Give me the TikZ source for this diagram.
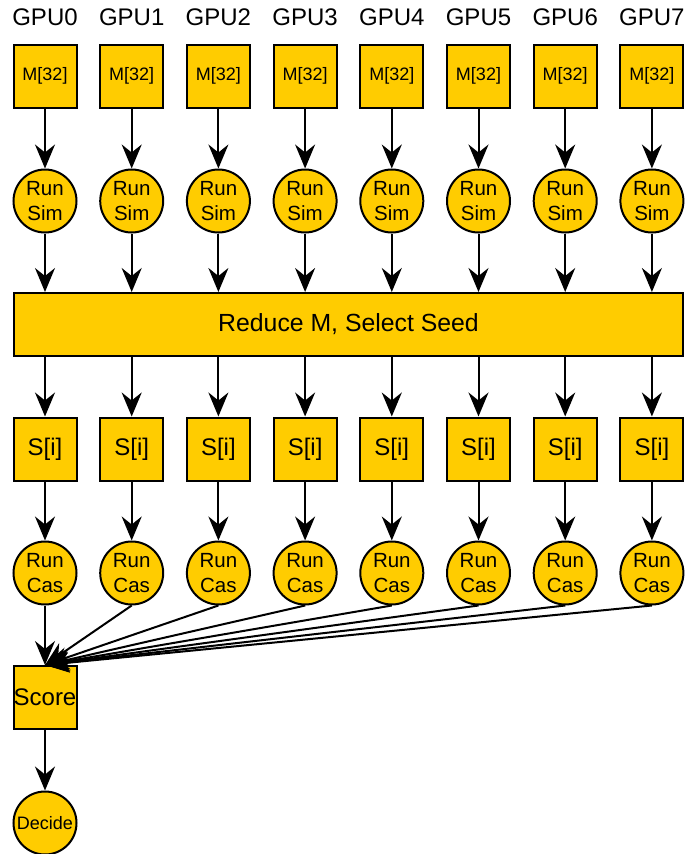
\documentclass[tikz,border=0pt]{standalone}
\usepackage{fontspec}
\setmainfont{Liberation Sans}
\usetikzlibrary{arrows.meta,positioning}
\definecolor{gpugold}{HTML}{FFCC00}
\tikzset{
  stage/.style={draw=black, line width=2pt, fill=gpugold, minimum size=63pt, inner sep=0pt},
  boxnode/.style={stage, rectangle},
  runnode/.style={stage, circle, align=center, font=\fontsize{20.5}{25}\selectfont},
  flow/.style={line width=2pt, -{Stealth[length=24pt,width=20pt,inset=8pt]}}
}

\begin{document}
\begin{tikzpicture}[x=1pt,y=-1pt]
  \useasboundingbox (0,0) rectangle (688,854);
  \pgfmathsetmacro{\colsep}{86.7};
  % reduction step shared by all GPUs
  \node[stage, rectangle, minimum width=669pt, font=\fontsize{24.8}{28}\selectfont] (reduce) at (348.5,324.5) {Reduce M, Select Seed};
  % scoring and decision
  \node[boxnode, font=\fontsize{24}{28}\selectfont] (score) at (45,697.5) {Score};
  \node[stage, circle, font=\fontsize{18}{22}\selectfont] (decide) at (45,823) {Decide};
  \draw[flow] (score) -- (decide);
  % one column per GPU
  \foreach \i in {0,...,7} {%
    \pgfmathsetmacro{\cx}{45+\i*\colsep}
    \node[font=\fontsize{24}{28}\selectfont] (gpu\i) at (\cx,17) {GPU\i};
    \node[boxnode, font=\fontsize{18}{22}\selectfont] (m\i) at (\cx,76) {M[32]};
    \node[runnode] (sim\i) at (\cx,201) {Run\\Sim};
    \node[boxnode, font=\fontsize{24}{28}\selectfont] (s\i) at (\cx,449) {S[i]};
    \node[runnode] (cas\i) at (\cx,573) {Run\\Cas};
    \draw[flow] (m\i) -- (sim\i);
    \draw[flow] (sim\i) -- (sim\i |- reduce.north);
    \draw[flow] (s\i |- reduce.south) -- (s\i);
    \draw[flow] (s\i) -- (cas\i);
    \draw[flow] (cas\i.south) -- (score.north);
  }
\end{tikzpicture}
\end{document}
